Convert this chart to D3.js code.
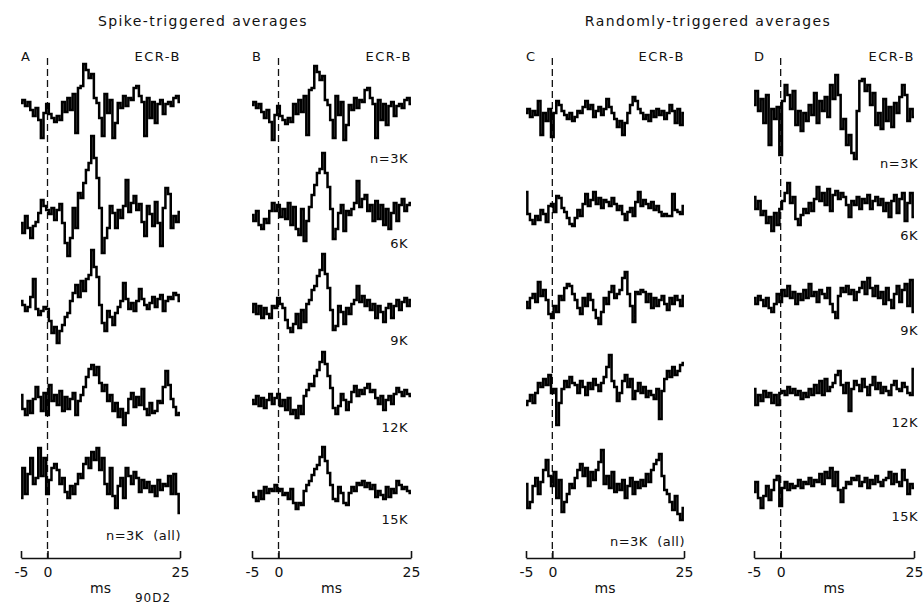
<!DOCTYPE html>
<html>
<head>
<meta charset="utf-8">
<script src="https://cdn.jsdelivr.net/npm/d3@7"></script>
<style>
  body { margin: 0; background: #fff; }
  text { font-family: "DejaVu Sans", sans-serif; fill: #111; }
</style>
</head>
<body>
<div id="chart"></div>
<script>
// samples every 0.5 ms from -5 to 25 ms (arbitrary units, up = positive)
var times = d3.range(-5, 25.001, 0.5);
var tickValues = [-5, 0, 25];
var panelLetters = ["A", "B", "C", "D"];
var countLabels = ["n=3K", "6K", "9K", "12K", "15K"];

// A: spike-triggered, successive 3K blocks
var traceA1 = [5,8,2,6,-2,-8,0,-12,-30,-5, 4,-6,-10,-14,-8,-12,6,-4,10,-2, 14,-25,20,22,44,38,30,34,10,5, -10,-28,14,-5,8,-30,-15,5,0,12, 2,10,8,20,22,12,6,-28,10,-10, 6,-15,4,8,-6,4,6,2,10,12, 6];
var traceA2 = [-5,-15,2,-10,-20,-8,-4,5,18,12, 8,4,10,-2,8,14,-5,-25,-38,-20, 10,-10,25,20,35,48,55,82,60,40, 10,-35,-20,-10,12,5,-10,8,0,12, 38,6,15,22,8,14,-4,-18,12,4, -8,16,-5,-28,10,30,24,-10,2,-4, 6];
var traceA3 = [4,0,-6,-2,8,26,-4,-10,-6,-2, -4,-16,-28,-22,-38,-26,-20,-12,-8,4, 12,20,8,24,14,26,30,55,38,28, 0,-18,-26,-6,-12,-20,-8,-2,4,22, 6,-4,2,-6,4,16,6,0,-4,2, 8,-2,6,10,-6,4,8,6,12,10, 4];
var traceA4 = [10,-4,-10,4,-8,6,18,8,-6,12, -10,20,4,10,0,14,-6,8,-4,6, 12,-10,4,10,18,28,36,40,30,38, 22,14,20,4,10,-6,2,-12,-4,-20, -8,6,12,-2,8,0,16,-4,-10,2, -8,-6,4,2,18,34,20,6,-2,-10, -8];
var traceA5 = [-10,20,-6,14,30,4,10,40,12,30, -6,8,20,24,18,4,10,-4,-10,2, -6,4,14,10,24,30,20,36,28,40, 18,30,4,-6,20,-8,-20,2,10,-10, 20,12,4,16,10,-4,8,0,6,-4, 2,-8,8,-2,4,2,12,-6,14,-6, -25];

// B: spike-triggered, cumulative 3K..15K
var traceB1 = traceA1;
var traceB2 = [0,-6,4,-10,-14,-4,-8,4,12,4, 10,-2,6,-4,12,-10,8,-14,-20,6, -26,-6,8,20,30,42,46,62,42,28, 6,-24,-14,2,10,-16,4,0,6,12, 34,8,16,20,4,10,-6,14,-4,10, -10,6,-14,2,12,-6,10,16,4,10, 12];
var traceB3 = [-2,6,-4,4,-8,2,-4,-8,4,2, 12,6,2,-10,-18,-22,-14,-4,-18,0, -12,6,10,20,24,34,40,56,36,22, 0,-20,-16,4,-2,-14,2,-4,6,10, 24,8,14,4,10,0,6,-8,4,-2, -12,2,6,-8,4,10,0,8,12,4, 10];
var traceB4 = [2,-2,6,-4,4,-6,2,8,-2,4, 8,-4,2,-8,4,-12,-8,-16,-4,-12, 6,12,18,16,26,32,40,50,38,26, 14,-6,-12,-4,8,2,-8,0,10,16, 6,12,8,14,18,10,12,4,-2,6, -8,2,6,-2,8,14,10,6,12,8, 6];
var traceB5 = [2,-2,-6,4,-4,8,2,6,4,10, 4,6,0,2,-4,6,-8,-14,-8,-10, 4,10,14,20,26,30,38,48,34,22, 10,-4,-6,8,2,-8,-10,2,8,4, 12,10,14,8,12,6,10,-2,4,0, -4,8,-2,6,2,14,10,6,8,4, 2];

// C: randomly-triggered, successive 3K blocks
var traceC1 = [2,6,-2,4,0,14,-20,2,-6,6, -22,2,14,10,4,0,-4,2,-6,-2, 4,2,8,14,6,10,-2,4,8,0, 6,16,8,2,-4,-12,-6,-20,-8,2, 10,18,14,6,2,-4,0,-6,4,-2, 6,0,4,-4,2,10,4,-8,6,-10, 2];
var traceC2 = [18,-4,-10,-14,-6,-10,0,-4,-12,4, 6,-2,14,12,2,-2,-8,-14,-16,-8, 0,-6,6,16,4,10,18,6,12,2, 10,8,4,12,6,0,4,-4,-10,-2, 2,-6,8,18,4,10,6,2,8,0, 4,-2,-6,-4,-6,-6,16,0,-2,-4, 4];
var traceC3 = [0,-6,4,8,0,20,6,12,2,-12, -16,-4,-10,6,2,14,18,16,8,2, -6,-12,4,-4,8,2,-8,-16,-22,-10, 4,-2,10,16,4,8,12,24,30,8, -4,-20,10,8,12,10,0,8,-6,4, -4,2,6,-2,-8,4,-2,6,2,-4, 6];
var traceC4 = [-8,-4,2,-6,4,14,10,18,12,22, 4,8,-28,-6,8,16,10,20,14,12, 4,16,10,2,14,8,18,12,6,14, 20,30,42,16,10,-4,4,16,22,10, 18,-2,6,14,4,10,0,6,2,-2, 8,-22,6,18,26,20,30,22,26,32, 34];
var traceC5 = [6,-18,-12,4,12,-4,8,20,30,14, 4,18,-8,10,-22,-12,-4,6,2,12, 20,26,14,22,4,18,10,20,28,40, 6,14,2,18,-2,6,0,10,-8,4, 12,-4,8,2,10,4,16,8,20,26, 30,36,14,0,-4,-12,-20,-6,-24,-30, -18];

// D: randomly-triggered, cumulative 3K..15K
var traceD1 = [10,24,4,16,-8,20,-30,6,-4,8, -40,14,30,20,6,24,-10,4,-16,2, -6,10,0,22,-8,14,4,18,-2,30, 16,40,20,-14,-4,-30,-20,-38,-44,4, 34,36,24,30,10,22,-10,2,-14,16, -6,8,-12,12,2,18,30,20,-6,6, -2];
var traceD2 = [10,-2,6,-8,-4,-16,-10,-24,-6,-18, -2,6,14,24,4,10,-12,-18,-8,-2, -6,4,-4,8,20,6,14,2,18,-4, 12,16,8,14,10,2,-10,6,2,10, -2,8,4,12,-2,6,10,2,8,-4, 4,-10,6,12,-6,8,14,-14,4,14, -10];
var traceD3 = [2,-4,4,0,-6,2,-8,-12,-4,6, -2,10,4,14,2,8,-4,6,0,10, 2,16,4,8,-2,10,6,2,12,-4, -12,-18,4,12,8,14,6,10,0,8, 12,18,6,22,12,4,14,2,8,-4, 12,0,-8,6,14,-2,10,16,-6,20, -12];
var traceD4 = [8,-8,2,-4,6,0,4,-6,2,-8, 4,6,2,10,4,8,2,6,-2,4, 0,8,2,12,4,16,2,18,6,10, 14,22,26,12,4,14,-14,8,16,12, 6,18,10,2,12,20,8,14,4,10, 6,2,12,16,8,6,14,10,4,2, 28];
var traceD5 = [0,10,-6,-16,-4,6,-8,2,12,16, -14,4,10,2,8,4,6,12,4,10, 8,14,6,12,10,18,8,20,14,24, 6,20,2,-10,4,10,8,14,12,16, 6,10,14,4,12,8,16,10,6,12, 14,20,8,18,10,6,22,12,-2,8, 4];

var panelTraces = [
  [traceA1, traceA2, traceA3, traceA4, traceA5],
  [traceB1, traceB2, traceB3, traceB4, traceB5],
  [traceC1, traceC2, traceC3, traceC4, traceC5],
  [traceD1, traceD2, traceD3, traceD4, traceD5]
];

// layout
var svgWidth = 924, svgHeight = 607;
var axisY = 558;
var panels = [
  { x0: 21,  x1: 180, rows: [108, 218, 305, 405, 488] },
  { x0: 252, x1: 411, rows: [110, 215, 310, 402, 495] },
  { x0: 526, x1: 684, rows: [115, 210, 302, 397, 490] },
  { x0: 754, x1: 914, rows: [115, 207, 300, 397, 492] }
];
var countDy = [48, 28, 30, 25, 24];

var svg = d3.select("#chart").append("svg")
  .attr("width", svgWidth)
  .attr("height", svgHeight);

svg.append("text")
  .attr("x", 203).attr("y", 21).attr("dy", "0.35em")
  .attr("text-anchor", "middle")
  .style("font-size", "14px").style("letter-spacing", "1.4px")
  .text("Spike-triggered averages");

svg.append("text")
  .attr("x", 708).attr("y", 21).attr("dy", "0.35em")
  .attr("text-anchor", "middle")
  .style("font-size", "14px").style("letter-spacing", "1.4px")
  .text("Randomly-triggered averages");

var amp = d3.scaleLinear().domain([-50, 50]).range([50, -50]);

panels.forEach(function(p, pi) {
  var x = d3.scaleLinear().domain([-5, 25]).range([p.x0, p.x1]);
  var g = svg.append("g");

  // trigger line at 0 ms
  g.append("line")
    .attr("x1", x(0)).attr("x2", x(0))
    .attr("y1", 58).attr("y2", axisY)
    .attr("stroke", "#111")
    .attr("stroke-width", 1.3)
    .attr("stroke-dasharray", "7,4");

  // traces
  panelTraces[pi].forEach(function(vals, ri) {
    var line = d3.line()
      .x(function(d, i) { return x(times[i]); })
      .y(function(d) { return p.rows[ri] + amp(d); })
      .curve(d3.curveStep);
    g.append("path")
      .datum(vals)
      .attr("d", line)
      .attr("fill", "none")
      .attr("stroke", "#000")
      .attr("stroke-width", 2.5)
      .attr("stroke-linejoin", "miter");
  });

  // time axis
  var axis = d3.axisBottom(x)
    .tickValues(tickValues)
    .tickFormat(function(d) { return String(d); })
    .tickSizeInner(-7)
    .tickSizeOuter(0)
    .tickPadding(9);
  var ax = g.append("g")
    .attr("transform", "translate(0," + axisY + ")")
    .call(axis);
  ax.select(".domain").attr("stroke", "#111").attr("stroke-width", 1.6);
  ax.selectAll(".tick line").attr("stroke", "#111").attr("stroke-width", 1.6);
  ax.selectAll(".tick text")
    .style("font-family", "DejaVu Sans, sans-serif")
    .style("font-size", "14px")
    .attr("fill", "#111");

  g.append("text")
    .attr("x", x(10)).attr("y", 588).attr("dy", "0.35em")
    .attr("text-anchor", "middle")
    .style("font-size", "14px")
    .text("ms");

  // panel letter and muscle name
  g.append("text")
    .attr("x", x(-5)).attr("y", 56).attr("dy", "0.35em")
    .style("font-size", "13px")
    .text(panelLetters[pi]);
  g.append("text")
    .attr("x", x(25) + 1).attr("y", 56).attr("dy", "0.35em")
    .attr("text-anchor", "end")
    .style("font-size", "13px").style("letter-spacing", "1.5px")
    .text("ECR-B");

  // sweep counts
  if (pi === 1 || pi === 3) {
    countLabels.forEach(function(lbl, ri) {
      g.append("text")
        .attr("x", x(25) + (pi === 3 ? 4 : -3))
        .attr("y", p.rows[ri] + countDy[ri]).attr("dy", "0.35em")
        .attr("text-anchor", "end")
        .style("font-size", "13px").style("letter-spacing", "0.5px")
        .text(lbl);
    });
  } else {
    g.append("text")
      .attr("x", x(25) + 1)
      .attr("y", pi === 0 ? 535 : 541).attr("dy", "0.35em")
      .attr("text-anchor", "end")
      .style("font-size", "13px").style("letter-spacing", "0.5px")
      .attr("xml:space", "preserve")
      .text("n=3K  (all)");
  }
});

svg.append("text")
  .attr("x", 153).attr("y", 598).attr("dy", "0.35em")
  .attr("text-anchor", "middle")
  .style("font-size", "12px").style("letter-spacing", "1px")
  .text("90D2");
</script>
</body>
</html>
